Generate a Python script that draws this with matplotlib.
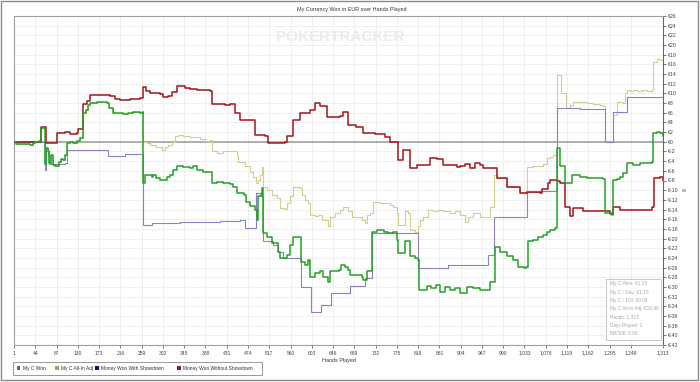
import matplotlib
matplotlib.use("Agg")
import matplotlib.pyplot as plt
from matplotlib.patches import Rectangle

plt.rcParams['font.family'] = ['Liberation Sans', 'DejaVu Sans']

title = "My Currency Won in EUR over Hands Played"
x_label = "Hands Played"
x_ticks = [1, 44, 87, 130, 173, 216, 259, 302, 345, 388, 431, 474, 517, 560, 603,
           646, 689, 732, 775, 818, 861, 904, 947, 990, 1033, 1076, 1119, 1162,
           1205, 1248, 1313]
y_ticks = list(range(-42, 27, 2))
series_names = ["My C Won", "My C All-In Adj", "Money Won With Showdown",
                "Money Won Without Showdown"]
stats_lines = ["My C Won: €1.15", "My C / Day: €1.15", "My C / 100: €0.09",
               "My C All-In Adj: €16.48", "Hands: 1,313", "Days Played: 1",
               "BB/100: 0.88"]

# My C Won
won_h = [1, 6, 23, 33, 40, 43, 52, 55, 62, 64, 66, 69, 72, 75, 79, 84, 91, 97, 101, 104,
         108, 114, 121, 128, 134, 140, 147, 151, 155, 168, 188, 194, 202, 215, 222, 232,
         242, 252, 256, 261, 262, 266, 272, 279, 282, 289, 296, 303, 310, 316, 323, 330,
         343, 357, 362, 370, 384, 397, 401, 411, 424, 438, 444, 451, 465, 471, 478, 488,
         492, 495, 500, 502, 504, 512, 522, 535, 539, 549, 552, 559, 566, 576, 581, 589,
         596, 599, 609, 620, 626, 636, 640, 657, 663, 670, 677, 680, 690, 704, 707, 714,
         721, 724, 734, 748, 758, 768, 775, 778, 788, 791, 798, 801, 812, 818, 820, 828,
         835, 845, 855, 862, 872, 882, 892, 903, 916, 929, 943, 960, 963, 973, 983, 997,
         1010, 1020, 1031, 1037, 1041, 1051, 1061, 1071, 1078, 1084, 1095, 1099, 1105,
         1111, 1115, 1125, 1130, 1145, 1159, 1189, 1192, 1196, 1209, 1212, 1219, 1226,
         1233, 1240, 1253, 1266, 1280, 1290, 1293, 1300, 1307, 1313]
won_v = [0, -0.5, -0.4, -0.6, -0.3, 0, 0.2, 2.8, 2.9, -4.5, -1.3, -2.0, -4.4, -2.8, -4.8,
         -5.1, -4.1, -3.5, -3.8, -2.7, -0.3, 0, -0.3, 0.1, 0.7, 6.0, 6.6, 7.6, 8.0, 8.2,
         8.0, 6.9, 5.9, 5.9, 5.8, 6.0, 6.2, 6.2, 6.0, 6.2, -8.6, -6.9, -6.8, -7.2, -6.9,
         -7.5, -7.9, -7.9, -7.3, -6.9, -5.8, -5.0, -5.2, -5.5, -5.0, -5.8, -6.2, -6.2,
         -8.6, -8.4, -8.6, -8.7, -9.3, -10.6, -10.9, -12.4, -13.3, -14.1, -16.2, -11.3,
         -11.0, -9.6, -18.9, -19.6, -21.0, -22.7, -24.1, -24.1, -23.3, -21.3, -19.6,
         -19.6, -24.8, -25.5, -24.4, -27.9, -27.2, -26.8, -27.9, -28.9, -26.8, -26.5,
         -25.5, -25.9, -26.5, -27.5, -27.5, -27.9, -28.6, -26.8, -26.8, -18.6, -18.2,
         -18.6, -18.9, -18.6, -20.3, -23.0, -23.0, -20.6, -20.6, -23.7, -24.1, -24.4,
         -30.6, -30.6, -29.9, -30.3, -29.6, -31.0, -30.0, -30.6, -30.3, -31.3, -30.0,
         -30.3, -30.6, -30.6, -28.9, -21.7, -22.7, -23.7, -24.4, -25.8, -26.1, -25.8,
         -20.6, -20.3, -19.6, -19.3, -18.6, -18.2, -17.9, -1.2, -5.1, -5.1, -8.6, -8.6,
         -6.9, -7.2, -7.5, -7.5, -7.6, -14.8, -15.1, -7.9, -7.6, -7.2, -6.5, -4.4, -4.8,
         -4.4, -4.3, -4.2, 1.8, 2.1, 1.8, 1.15]

# My C All-In Adj
adj_h = [1, 6, 23, 33, 40, 43, 52, 55, 62, 64, 66, 69, 72, 75, 79, 84, 91, 97, 101, 104,
         108, 114, 121, 128, 134, 140, 147, 151, 155, 168, 188, 194, 202, 215, 222, 232,
         242, 252, 256, 261, 262, 269, 276, 289, 300, 306, 313, 320, 326, 333, 343, 357,
         367, 377, 387, 397, 401, 411, 424, 438, 451, 454, 468, 478, 485, 490, 495, 498,
         502, 504, 512, 522, 532, 539, 549, 552, 559, 566, 579, 583, 589, 596, 599, 609,
         616, 623, 636, 640, 650, 660, 667, 677, 684, 694, 704, 711, 714, 721, 727, 741,
         751, 761, 768, 775, 778, 788, 791, 798, 801, 812, 818, 822, 828, 838, 849, 859,
         869, 882, 892, 903, 913, 919, 929, 943, 957, 963, 971, 977, 998, 1018, 1024,
         1038, 1039, 1050, 1064, 1070, 1078, 1084, 1091, 1098, 1107, 1117, 1125, 1131,
         1145, 1159, 1172, 1186, 1192, 1196, 1209, 1212, 1219, 1233, 1236, 1240, 1246,
         1253, 1260, 1270, 1280, 1290, 1293, 1300, 1307, 1313]
adj_v = [0, -0.5, -0.4, -0.6, -0.3, 0, 0.2, 2.8, 2.9, -4.5, -1.3, -2.0, -4.4, -2.8, -4.8,
         -5.1, -4.1, -3.5, -3.8, -2.7, -0.3, 0, -0.3, 0.1, 0.7, 6.0, 6.6, 7.6, 8.0, 8.2,
         8.0, 6.9, 5.9, 5.9, 5.8, 6.0, 6.2, 6.2, 6.0, 6.2, 0.0, -0.3, -0.7, -1.0, -1.6,
         -1.0, -0.7, 0.0, 1.1, 1.4, 1.1, 0.9, 0.9, 0.6, 0.2, 0.4, -2.0, -2.3, -1.8, -2.0,
         -2.7, -4.1, -5.1, -6.2, -7.2, -8.6, -7.9, -6.9, -5.3, -9.3, -10.0, -11.0, -11.7,
         -13.7, -13.9, -12.7, -11.3, -9.4, -9.6, -10.9, -12.0, -12.7, -15.1, -15.3, -15.1,
         -16.2, -17.5, -15.5, -14.8, -14.1, -13.4, -14.4, -15.5, -15.5, -16.2, -16.8,
         -15.1, -14.8, -12.4, -12.7, -12.7, -13.1, -13.4, -14.8, -17.2, -17.2, -14.4,
         -14.8, -18.2, -18.6, -17.5, -16.2, -15.5, -14.1, -14.4, -14.1, -14.4, -14.8,
         -14.4, -15.1, -16.5, -15.5, -14.8, -15.5, -15.5, -13.4, -6.9, -7.5, -9.3, -9.3,
         -10.6, -10.4, -5.3, -5.1, -5.1, -4.6, -3.4, -3.1, -2.7, 13.8, 10.0, 6.9, 7.6,
         8.3, 8.2, 8.1, 7.8, 7.6, 7.3, 0.0, 0.0, 5.5, 8.3, 8.0, 10.0, 10.7, 10.5, 10.7,
         10.5, 10.7, 10.5, 10.8, 16.5, 17.2, 17.0, 16.48]

# Money Won With Showdown
sd_h = [1, 62, 64, 66, 69, 72, 104, 108, 192, 225, 261, 262, 279, 337, 377, 417, 458,
        468, 490, 500, 504, 525, 535, 545, 581, 601, 621, 641, 680, 711, 724, 818, 878,
        960, 971, 1039, 1064, 1099, 1145, 1186, 1196, 1212, 1240, 1313]
sd_v = [0, 0, -5.8, -2.0, -3.0, -4.6, -4.4, -1.7, -2.9, -2.6, -2.6, -17.3, -16.8, -16.6,
        -16.5, -16.3, -16.2, -17.9, -10.6, -11.3, -20.6, -21.3, -22.7, -24.1, -30.0,
        -35.1, -33.7, -31.3, -29.9, -28.2, -18.9, -26.1, -25.5, -23.4, -15.5, -10.3,
        -10.1, 6.9, 6.8, 6.7, 0.0, 6.2, 9.2, 9.2]

# Money Won Without Showdown
nsd_h = [1, 54, 56, 66, 84, 88, 104, 114, 128, 130, 138, 140, 149, 155, 175, 195, 205,
         215, 236, 256, 262, 268, 276, 296, 302, 312, 320, 331, 347, 357, 371, 397, 401,
         428, 438, 448, 458, 478, 488, 508, 514, 549, 553, 565, 579, 599, 609, 620, 634,
         660, 666, 676, 692, 706, 731, 751, 761, 775, 777, 787, 797, 801, 816, 836, 842,
         856, 868, 896, 902, 912, 923, 933, 943, 949, 969, 977, 998, 1018, 1024, 1038,
         1064, 1068, 1080, 1084, 1099, 1105, 1115, 1125, 1131, 1151, 1192, 1206, 1212,
         1226, 1287, 1291, 1295, 1307, 1313]
nsd_v = [0, 0, 3.0, -0.3, -0.3, 1.9, 2.0, 1.6, 1.9, 2.6, 2.6, 7.8, 8.5, 9.7, 9.6, 9.5,
         8.8, 8.6, 8.8, 9.0, 11.4, 10.5, 10.0, 9.8, 9.3, 9.5, 10.2, 11.5, 11.2, 11.0,
         10.7, 10.4, 7.8, 7.6, 7.8, 5.9, 4.5, 4.5, 1.4, 1.3, -0.3, -0.1, 1.1, 4.5, 5.9,
         6.6, 8.0, 7.4, 5.2, 5.4, 6.2, 3.5, 3.0, 1.8, 1.6, 1.0, 0.0, 0.0, -3.8, -1.7,
         -1.7, -5.5, -4.8, -4.8, -3.4, -3.6, -4.8, -5.3, -5.0, -4.6, -5.5, -4.4, -4.8,
         -5.5, -5.5, -7.5, -9.3, -9.3, -10.6, -10.4, -10.5, -9.8, -8.6, -7.9, -8.0, -8.6,
         -13.4, -15.3, -13.7, -14.4, -14.4, -14.9, -13.4, -14.1, -14.1, -13.4, -7.5, -7.2,
         -7.9]

W, H = 700, 382
fig = plt.figure(figsize=(W / 100, H / 100), dpi=100)
fig.patch.set_facecolor('white')

def fx(px):
    return px / W

def fy(py):
    return 1 - py / H

ax = fig.add_axes([fx(14), fy(345), fx(663) - fx(14), fy(16) - fy(345)])
ax.set_xlim(1, 1313)
ax.set_ylim(-42, 26)
ax.set_xticks(x_ticks)
ax.set_xticklabels([f"{t:,}" for t in x_ticks])
ax.set_yticks(y_ticks)
ax.set_yticklabels([f"€{t}" for t in y_ticks])
ax.yaxis.tick_right()
ax.grid(True, color='#ececec', lw=0.6, zorder=0)
ax.set_axisbelow(True)
for s in ['left', 'top', 'bottom']:
    ax.spines[s].set_color('#a0a0a0')
    ax.spines[s].set_linewidth(0.8)
ax.spines['right'].set_color('#666666')
ax.spines['right'].set_linewidth(0.8)
ax.tick_params(axis='y', length=2.5, width=0.5, pad=1, labelsize=3.8,
               colors='#444444')
ax.tick_params(axis='x', length=2.5, width=0.5, pad=1.5, labelsize=3.6,
               colors='#444444')
ax.set_xlabel(x_label, fontsize=3.9, color='#333333', labelpad=2)

ax.axhline(0, color='#9a9a9a', lw=1.1, zorder=1)

ax.plot(adj_h, adj_v, drawstyle='steps-post', color='#d0d08e', lw=0.8, zorder=2)
ax.plot(sd_h, sd_v, drawstyle='steps-post', color='#8585c6', lw=0.8, zorder=3)
ax.plot(nsd_h, nsd_v, drawstyle='steps-post', color='#a3151a', lw=1.1, zorder=4)
ax.plot(won_h, won_v, drawstyle='steps-post', color='#25a125', lw=1.1, zorder=5)

# watermark
fig.text(fx(340), fy(37), "POKERTRACKER", fontsize=11, fontweight='bold',
         color='#ebebeb', ha='center', va='center', zorder=0)

# title
fig.text(fx(352), fy(9), title, fontsize=3.9, color='#333333', ha='center', va='center')

# w label at right
fig.text(fx(683), fy(190), "w", fontsize=4, color='#555555', ha='center', va='center')

# stats box
fig.patches.append(Rectangle((fx(606), fy(340)), fx(661) - fx(606), fy(279) - fy(340),
                             transform=fig.transFigure, facecolor='white',
                             edgecolor='#c8c8c8', lw=0.7, zorder=6))
for i, line in enumerate(stats_lines):
    fig.text(fx(610), fy(284 + i * 8.2), line, fontsize=3.4, color='#a8a8a8',
             ha='left', va='center', zorder=7)

# legend
fig.patches.append(Rectangle((fx(13), fy(375)), fx(262) - fx(13), fy(362) - fy(375),
                             transform=fig.transFigure, facecolor='white',
                             edgecolor='#999999', lw=0.7))
leg_colors = ['#2e8f2e', '#a3a358', '#101070', '#8e1b2a']
leg_sq_x = [18.3, 56.7, 96.7, 179]
leg_tx_x = [22.7, 60.7, 100.7, 183]
for name, c, sx, tx in zip(series_names, leg_colors, leg_sq_x, leg_tx_x):
    fig.patches.append(Rectangle((fx(sx - 1.8), fy(370)), fx(3.6), fy(366.4) - fy(370),
                                 transform=fig.transFigure, facecolor=c,
                                 edgecolor='none'))
    fig.text(fx(tx), fy(368.3), name, fontsize=3.5, color='#333333',
             ha='left', va='center')

# outer border
fig.patches.append(Rectangle((fx(1), fy(380)), fx(697), fy(1) - fy(380),
                             transform=fig.transFigure, facecolor='none',
                             edgecolor='#8a8a8a', lw=1.0))

fig.savefig("out.png", dpi=100)
